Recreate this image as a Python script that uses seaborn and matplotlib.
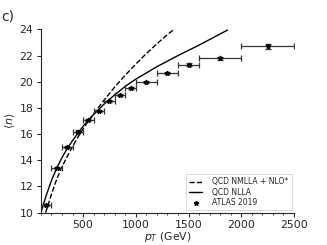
import numpy as np
import pandas as pd
import matplotlib
matplotlib.use("Agg")
import matplotlib.pyplot as plt
from matplotlib.lines import Line2D
from matplotlib.ticker import MultipleLocator
import seaborn as sns

# ATLAS 2019 data: bin centres, half widths, mean multiplicity, error
atlas_pt = [150, 250, 350, 450, 550, 650, 750, 850, 950, 1100, 1300, 1500, 1800, 2250]
atlas_xerr = [50, 50, 50, 50, 50, 50, 50, 50, 50, 100, 100, 100, 200, 250]
atlas_n = [10.6, 13.4, 15.0, 16.2, 17.1, 17.8, 18.5, 19.0, 19.5, 20.0, 20.65, 21.3, 21.8, 22.7]
atlas_yerr = [0.08, 0.08, 0.08, 0.08, 0.08, 0.08, 0.08, 0.08, 0.08, 0.08, 0.08, 0.1, 0.1, 0.2]

# QCD NLLA curve
nlla_pt = [100, 150, 200, 250, 300, 350, 400, 450, 500, 600, 700, 800, 900, 1000,
           1200, 1400, 1600, 1870]
nlla_n = [10.0, 11.3, 12.45, 13.4, 14.2, 14.9, 15.5, 16.05, 16.6, 17.5, 18.3, 19.0,
          19.65, 20.2, 21.15, 22.0, 22.8, 23.95]

# QCD NMLLA + NLO* curve
nmlla_pt = [145, 200, 250, 300, 350, 400, 450, 500, 550, 600, 700, 800, 900, 1000,
            1100, 1200, 1300, 1370]
nmlla_n = [10.0, 11.4, 12.55, 13.5, 14.3, 15.05, 15.75, 16.4, 17.0, 17.55, 18.6, 19.6,
           20.5, 21.35, 22.15, 22.9, 23.6, 24.05]

sns.set_style("ticks")
plt.rcParams["font.family"] = ["DejaVu Sans"]

fig = plt.figure(figsize=(3.27, 2.45), dpi=100)
ax = fig.add_axes([0.125, 0.132, 0.774, 0.748])

dash = pd.DataFrame({"pt": nmlla_pt, "n": nmlla_n})
solid = pd.DataFrame({"pt": nlla_pt, "n": nlla_n})
sns.lineplot(data=dash, x="pt", y="n", ax=ax, color="black", lw=1.0,
             linestyle="--")
sns.lineplot(data=solid, x="pt", y="n", ax=ax, color="black", lw=1.0)
ax.errorbar(atlas_pt, atlas_n, xerr=atlas_xerr, yerr=atlas_yerr, fmt="*",
            color="black", ms=3.5, elinewidth=0.9, capsize=2.5, capthick=0.9,
            ecolor="#333333")

ax.set_xlim(100, 2500)
ax.set_ylim(10, 24)
ax.set_yticks(range(10, 25, 2))
ax.set_xticks([500, 1000, 1500, 2000, 2500])
ax.xaxis.set_minor_locator(MultipleLocator(100))
ax.tick_params(labelsize=7.8, length=3, width=0.8, pad=2.5)
ax.tick_params(which="minor", length=1.5, width=0.6)
ax.set_xlabel("$p_T$ (GeV)", fontsize=7.8, labelpad=0)
ax.set_ylabel(r"$\langle n \rangle$", fontsize=8, labelpad=2)
sns.despine(ax=ax)

handles = [Line2D([], [], color="black", lw=1.0, ls="--"),
           Line2D([], [], color="black", lw=1.0),
           Line2D([], [], color="black", ls="", marker="*", ms=3.5)]
labels = ["QCD NMLLA + NLO*", "QCD NLLA", "ATLAS 2019"]
leg = ax.legend(handles, labels, loc="lower right", fontsize=5.5, frameon=True,
                handlelength=1.8, handletextpad=1.3, borderpad=0.4,
                labelspacing=0.2, borderaxespad=0.3, fancybox=False)
leg.get_frame().set_linewidth(0.6)

fig.text(0.005, 0.915, "c)", fontsize=10)

fig.savefig("out.png", dpi=100)
